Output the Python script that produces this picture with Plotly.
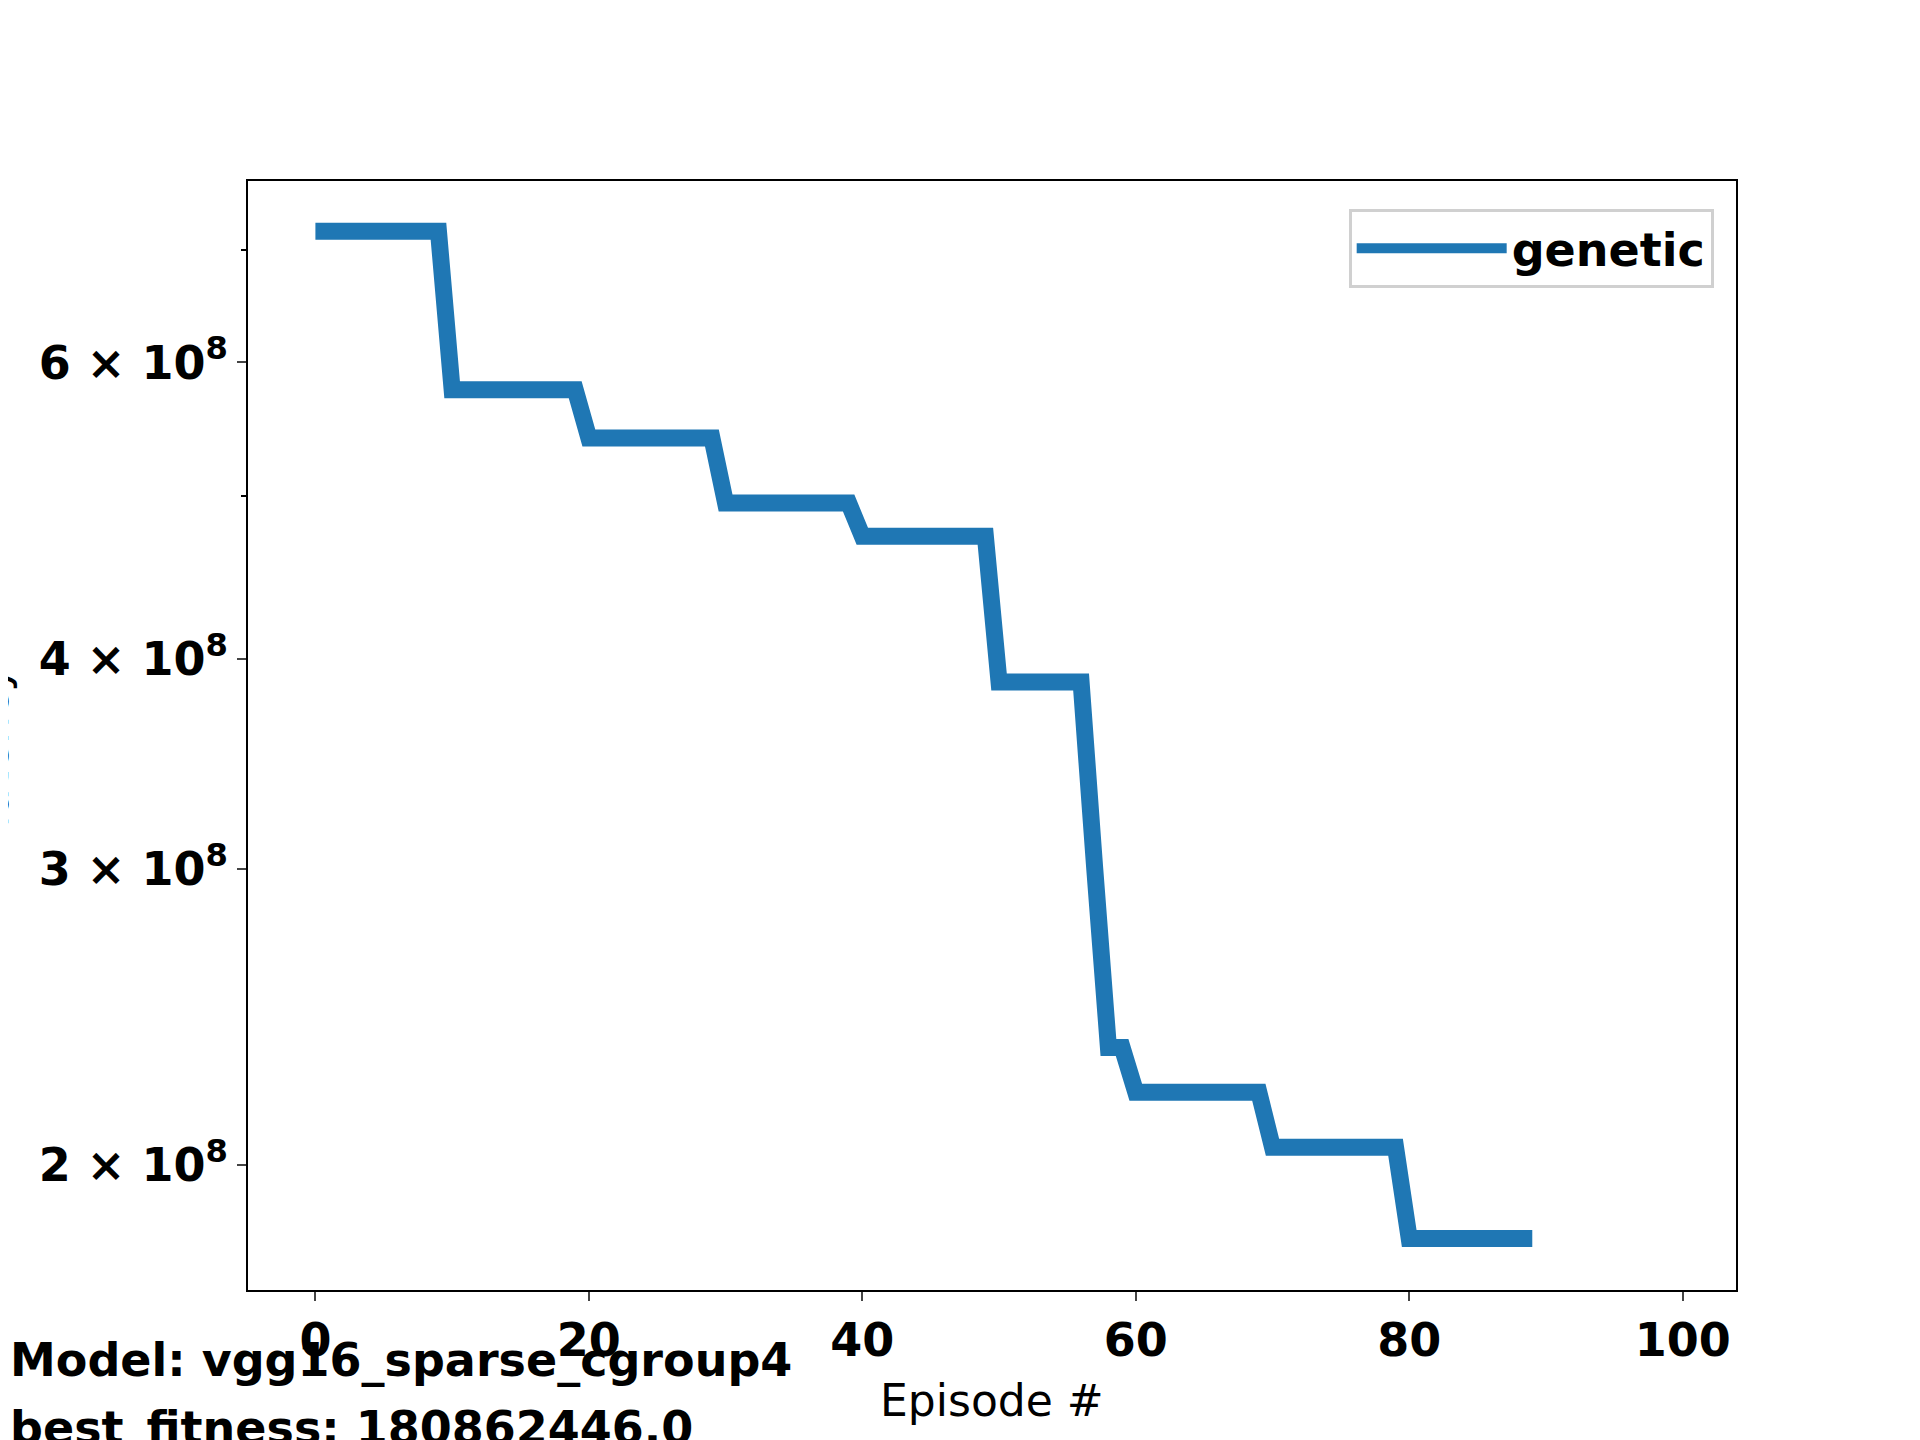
import plotly.graph_objects as go

episodes = list(range(100))
step_levels = [7.18e8, 5.78e8, 5.41e8, 4.95e8, 4.73e8]
latency = []
for lvl in step_levels:
    latency += [lvl] * 10
latency += [3.875e8] * 7
latency += [3.0e8, 2.35e8, 2.35e8]
latency += [2.21e8] * 10 + [2.05e8] * 10 + [1.809e8] * 10

ytick_vals = [2e8, 3e8, 4e8, 6e8]
ytick_text = ["2 × 10<sup>8</sup>", "3 × 10<sup>8</sup>", "4 × 10<sup>8</sup>", "6 × 10<sup>8</sup>"]

font = dict(family="DejaVu Sans", color="black")

fig = go.Figure()
fig.add_trace(go.Scatter(x=episodes, y=latency, mode="lines", name="genetic",
                         line=dict(color="#1f77b4", width=17)))

fig.update_layout(
    width=1920, height=1440, paper_bgcolor="white", plot_bgcolor="white",
    margin=dict(l=240, r=192, t=173, b=158),
    font=font,
    showlegend=True,
    legend=dict(x=0.985, y=0.975, xanchor="right", yanchor="top",
                bordercolor="#d0d0d0", borderwidth=3,
                font=dict(size=46, family="DejaVu Sans", color="black", weight="bold"),
                itemwidth=150),
)
fig.update_xaxes(range=[-4.93, 103.9], tickvals=[0, 20, 40, 60, 80, 100],
                 ticks="outside", ticklen=9, tickwidth=2, showgrid=False, zeroline=False,
                 showline=True, linecolor="black", linewidth=2, mirror=True,
                 tickfont=dict(size=46, weight="bold"))
fig.update_yaxes(type="log", range=[8.2269, 8.886], tickvals=ytick_vals, ticktext=ytick_text,
                 ticks="outside", ticklen=9, tickwidth=2, showgrid=False, zeroline=False,
                 showline=True, linecolor="black", linewidth=2, mirror=True,
                 tickfont=dict(size=46, weight="bold"),
                 minor=dict(tickvals=[5e8, 7e8], ticks="outside", ticklen=5, tickwidth=1.5,
                            tickcolor="black", showgrid=False))

fig.add_annotation(text="Episode #", xref="paper", yref="paper", x=0.5, y=-0.1, showarrow=False,
                   font=dict(size=44), xanchor="center", yanchor="middle")
fig.add_annotation(text="latency", xref="paper", yref="paper", x=-0.153, y=0.49, showarrow=False,
                   textangle=-90, font=dict(size=44), xanchor="right", yanchor="middle")
fig.add_annotation(text="<b>Model: vgg16_sparse_cgroup4</b>", xref="paper", yref="paper",
                   x=-0.161, y=-0.063, showarrow=False, xanchor="left", yanchor="middle",
                   font=dict(size=46))
fig.add_annotation(text="<b>best_fitness: 180862446.0</b>", xref="paper", yref="paper",
                   x=-0.161, y=-0.124, showarrow=False, xanchor="left", yanchor="middle",
                   font=dict(size=46))

fig.write_html("out.html")
